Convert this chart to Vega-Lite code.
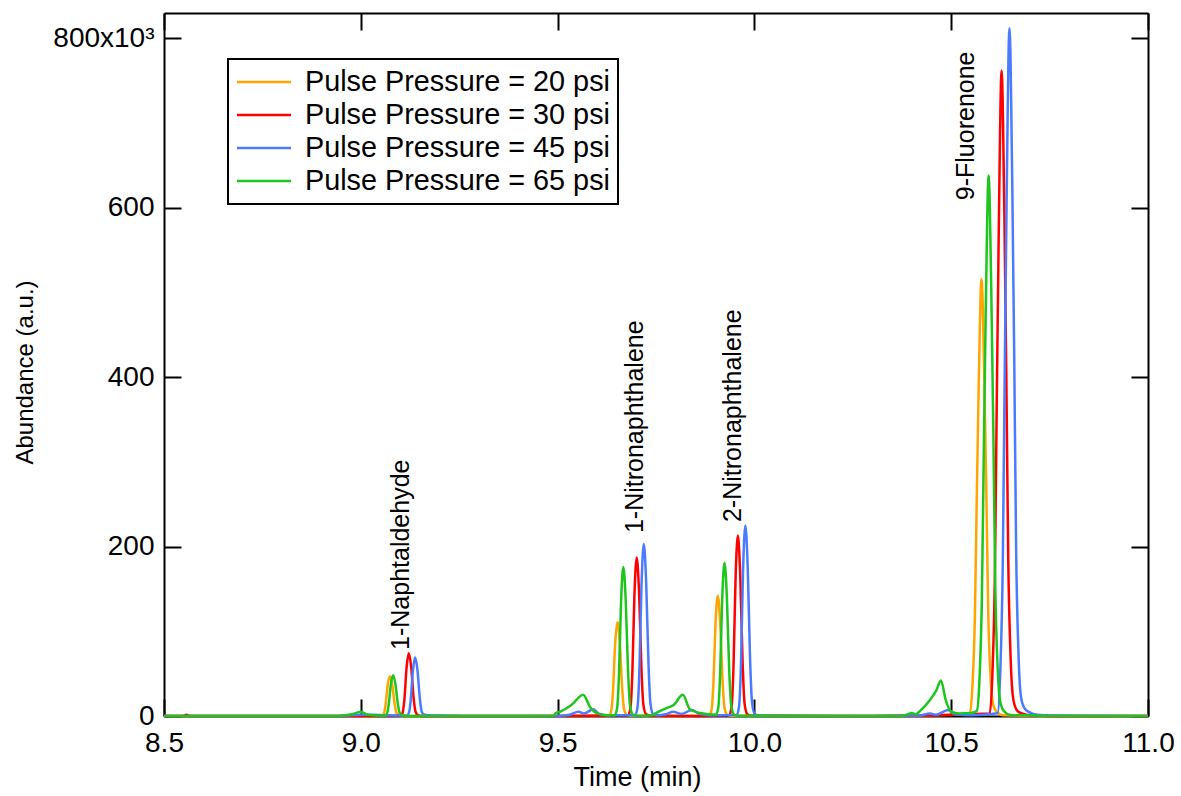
{
  "$schema": "https://vega.github.io/schema/vega-lite/v6.json",
  "width": 984,
  "height": 703,
  "autosize": "none",
  "padding": {"left": 164, "top": 13, "right": 33, "bottom": 80},
  "background": "white",
  "config": {
    "view": {"stroke": null},
    "font": "Liberation Sans",
    "axis": {
      "grid": false,
      "domainColor": "black",
      "domainWidth": 2,
      "tickColor": "black",
      "tickWidth": 2,
      "tickSize": -17,
      "labelFont": "Liberation Sans",
      "labelFontSize": 28,
      "labelColor": "black",
      "labelFlush": false,
      "labelOverlap": false,
      "titleFont": "Liberation Sans",
      "titleFontWeight": "normal",
      "titleColor": "black",
      "zindex": 1
    },
    "legend": {
      "orient": "none",
      "legendX": 64,
      "legendY": 46,
      "fillColor": "white",
      "strokeColor": "black",
      "strokeWidth": 2,
      "padding": 8,
      "symbolType": "M-2,0H2",
      "symbolSize": 729,
      "symbolStrokeWidth": 2.5,
      "symbolOffset": 13,
      "labelFont": "Liberation Sans",
      "labelFontSize": 28.8,
      "labelColor": "black",
      "labelOffset": 26,
      "labelLimit": 0,
      "rowPadding": 3
    }
  },
  "layer": [
    {
      "data": {"values": [
        {"t":8.5,"a":0,"p":20},{"t":9.0,"a":0,"p":20},{"t":9.052,"a":235,"p":20},{"t":9.058,"a":2350,"p":20},{"t":9.063,"a":13160,"p":20},{"t":9.068,"a":35250,"p":20},{"t":9.074,"a":47000,"p":20},{"t":9.080,"a":36660,"p":20},{"t":9.086,"a":14100,"p":20},{"t":9.091,"a":3290,"p":20},{"t":9.098,"a":470,"p":20},{"t":9.108,"a":94,"p":20},{"t":9.4,"a":0,"p":20},{"t":9.630,"a":555,"p":20},{"t":9.636,"a":5550,"p":20},{"t":9.641,"a":31080,"p":20},{"t":9.646,"a":83250,"p":20},{"t":9.652,"a":111000,"p":20},{"t":9.658,"a":86580,"p":20},{"t":9.664,"a":33300,"p":20},{"t":9.669,"a":7770,"p":20},{"t":9.676,"a":1110,"p":20},{"t":9.686,"a":222,"p":20},{"t":9.8,"a":0,"p":20},{"t":9.885,"a":710,"p":20},{"t":9.891,"a":7100,"p":20},{"t":9.896,"a":39760,"p":20},{"t":9.901,"a":106500,"p":20},{"t":9.907,"a":142000,"p":20},{"t":9.913,"a":110760,"p":20},{"t":9.919,"a":42600,"p":20},{"t":9.924,"a":9940,"p":20},{"t":9.931,"a":1420,"p":20},{"t":9.941,"a":284,"p":20},{"t":10.3,"a":0,"p":20},{"t":10.547,"a":2064,"p":20},{"t":10.554,"a":36120,"p":20},{"t":10.560,"a":113520,"p":20},{"t":10.565,"a":258000,"p":20},{"t":10.570,"a":392160,"p":20},{"t":10.577,"a":516000,"p":20},{"t":10.584,"a":402480,"p":20},{"t":10.589,"a":273480,"p":20},{"t":10.594,"a":123840,"p":20},{"t":10.600,"a":46440,"p":20},{"t":10.607,"a":12900,"p":20},{"t":10.617,"a":4128,"p":20},{"t":10.632,"a":1032,"p":20},{"t":10.8,"a":0,"p":20},{"t":11.0,"a":0,"p":20},
        {"t":8.5,"a":0,"p":30},{"t":8.55,"a":0,"p":30},{"t":8.557,"a":1500,"p":30},{"t":8.565,"a":0,"p":30},{"t":9.0,"a":0,"p":30},{"t":9.100,"a":370,"p":30},{"t":9.106,"a":3700,"p":30},{"t":9.111,"a":20720,"p":30},{"t":9.116,"a":55500,"p":30},{"t":9.122,"a":74000,"p":30},{"t":9.128,"a":57720,"p":30},{"t":9.134,"a":22200,"p":30},{"t":9.139,"a":5180,"p":30},{"t":9.146,"a":740,"p":30},{"t":9.156,"a":148,"p":30},{"t":9.5,"a":0,"p":30},{"t":9.679,"a":935,"p":30},{"t":9.685,"a":9350,"p":30},{"t":9.690,"a":52360,"p":30},{"t":9.695,"a":140250,"p":30},{"t":9.701,"a":187000,"p":30},{"t":9.707,"a":145860,"p":30},{"t":9.713,"a":56100,"p":30},{"t":9.718,"a":13090,"p":30},{"t":9.725,"a":1870,"p":30},{"t":9.735,"a":374,"p":30},{"t":9.85,"a":0,"p":30},{"t":9.936,"a":1065,"p":30},{"t":9.942,"a":10650,"p":30},{"t":9.947,"a":59640,"p":30},{"t":9.952,"a":159750,"p":30},{"t":9.958,"a":213000,"p":30},{"t":9.964,"a":166140,"p":30},{"t":9.970,"a":63900,"p":30},{"t":9.975,"a":14910,"p":30},{"t":9.982,"a":2130,"p":30},{"t":9.992,"a":426,"p":30},{"t":10.3,"a":0,"p":30},{"t":10.598,"a":3048,"p":30},{"t":10.605,"a":53340,"p":30},{"t":10.611,"a":167640,"p":30},{"t":10.616,"a":381000,"p":30},{"t":10.621,"a":579120,"p":30},{"t":10.628,"a":762000,"p":30},{"t":10.635,"a":594360,"p":30},{"t":10.640,"a":403860,"p":30},{"t":10.645,"a":182880,"p":30},{"t":10.651,"a":68580,"p":30},{"t":10.658,"a":19050,"p":30},{"t":10.668,"a":6096,"p":30},{"t":10.683,"a":2500,"p":30},{"t":10.70,"a":1000,"p":30},{"t":10.8,"a":0,"p":30},{"t":11.0,"a":0,"p":30},
        {"t":8.5,"a":0,"p":45},{"t":8.95,"a":0,"p":45},{"t":9.0,"a":1500,"p":45},{"t":9.03,"a":1500,"p":45},{"t":9.06,"a":800,"p":45},{"t":9.116,"a":345,"p":45},{"t":9.122,"a":3450,"p":45},{"t":9.127,"a":19320,"p":45},{"t":9.132,"a":51750,"p":45},{"t":9.138,"a":69000,"p":45},{"t":9.144,"a":53820,"p":45},{"t":9.150,"a":20700,"p":45},{"t":9.155,"a":4830,"p":45},{"t":9.162,"a":1380,"p":45},{"t":9.172,"a":800,"p":45},{"t":9.24,"a":300,"p":45},{"t":9.26,"a":0,"p":45},{"t":9.5,"a":0,"p":45},{"t":9.53,"a":1500,"p":45},{"t":9.553,"a":5000,"p":45},{"t":9.567,"a":3000,"p":45},{"t":9.591,"a":8000,"p":45},{"t":9.605,"a":2500,"p":45},{"t":9.63,"a":1000,"p":45},{"t":9.697,"a":1015,"p":45},{"t":9.703,"a":10150,"p":45},{"t":9.708,"a":56840,"p":45},{"t":9.713,"a":152250,"p":45},{"t":9.719,"a":203000,"p":45},{"t":9.725,"a":158340,"p":45},{"t":9.731,"a":60900,"p":45},{"t":9.736,"a":14210,"p":45},{"t":9.743,"a":2030,"p":45},{"t":9.753,"a":800,"p":45},{"t":9.775,"a":2000,"p":45},{"t":9.794,"a":5000,"p":45},{"t":9.815,"a":2500,"p":45},{"t":9.841,"a":7000,"p":45},{"t":9.86,"a":2500,"p":45},{"t":9.89,"a":800,"p":45},{"t":9.955,"a":1125,"p":45},{"t":9.961,"a":11250,"p":45},{"t":9.966,"a":63000,"p":45},{"t":9.971,"a":168750,"p":45},{"t":9.977,"a":225000,"p":45},{"t":9.983,"a":175500,"p":45},{"t":9.989,"a":67500,"p":45},{"t":9.994,"a":15750,"p":45},{"t":10.001,"a":2250,"p":45},{"t":10.011,"a":450,"p":45},{"t":10.3,"a":0,"p":45},{"t":10.42,"a":500,"p":45},{"t":10.446,"a":3000,"p":45},{"t":10.462,"a":1500,"p":45},{"t":10.492,"a":7000,"p":45},{"t":10.51,"a":2000,"p":45},{"t":10.55,"a":800,"p":45},{"t":10.618,"a":3248,"p":45},{"t":10.625,"a":56840,"p":45},{"t":10.631,"a":178640,"p":45},{"t":10.636,"a":406000,"p":45},{"t":10.641,"a":617120,"p":45},{"t":10.648,"a":812000,"p":45},{"t":10.655,"a":633360,"p":45},{"t":10.660,"a":430360,"p":45},{"t":10.665,"a":194880,"p":45},{"t":10.671,"a":73080,"p":45},{"t":10.678,"a":20300,"p":45},{"t":10.688,"a":8000,"p":45},{"t":10.703,"a":3500,"p":45},{"t":10.72,"a":1500,"p":45},{"t":10.75,"a":500,"p":45},{"t":11.0,"a":0,"p":45},
        {"t":8.5,"a":0,"p":65},{"t":8.93,"a":0,"p":65},{"t":8.96,"a":1000,"p":65},{"t":8.985,"a":3000,"p":65},{"t":9.0,"a":5000,"p":65},{"t":9.012,"a":2500,"p":65},{"t":9.03,"a":800,"p":65},{"t":9.060,"a":240,"p":65},{"t":9.066,"a":2400,"p":65},{"t":9.071,"a":13440,"p":65},{"t":9.076,"a":36000,"p":65},{"t":9.082,"a":48000,"p":65},{"t":9.088,"a":37440,"p":65},{"t":9.094,"a":14400,"p":65},{"t":9.099,"a":3360,"p":65},{"t":9.106,"a":480,"p":65},{"t":9.116,"a":96,"p":65},{"t":9.49,"a":0,"p":65},{"t":9.495,"a":3500,"p":65},{"t":9.506,"a":5000,"p":65},{"t":9.535,"a":13000,"p":65},{"t":9.565,"a":25000,"p":65},{"t":9.582,"a":11000,"p":65},{"t":9.599,"a":3500,"p":65},{"t":9.625,"a":1000,"p":65},{"t":9.645,"a":880,"p":65},{"t":9.651,"a":8800,"p":65},{"t":9.656,"a":49280,"p":65},{"t":9.661,"a":132000,"p":65},{"t":9.667,"a":176000,"p":65},{"t":9.673,"a":137280,"p":65},{"t":9.679,"a":52800,"p":65},{"t":9.684,"a":12320,"p":65},{"t":9.691,"a":1760,"p":65},{"t":9.701,"a":352,"p":65},{"t":9.74,"a":1000,"p":65},{"t":9.75,"a":3500,"p":65},{"t":9.775,"a":9000,"p":65},{"t":9.795,"a":13000,"p":65},{"t":9.818,"a":25000,"p":65},{"t":9.836,"a":8000,"p":65},{"t":9.862,"a":3500,"p":65},{"t":9.885,"a":2000,"p":65},{"t":9.902,"a":1500,"p":65},{"t":9.908,"a":9050,"p":65},{"t":9.913,"a":50680,"p":65},{"t":9.918,"a":135750,"p":65},{"t":9.924,"a":181000,"p":65},{"t":9.930,"a":141180,"p":65},{"t":9.936,"a":54300,"p":65},{"t":9.941,"a":12670,"p":65},{"t":9.948,"a":1810,"p":65},{"t":9.958,"a":362,"p":65},{"t":10.37,"a":0,"p":65},{"t":10.39,"a":2000,"p":65},{"t":10.40,"a":3500,"p":65},{"t":10.41,"a":2000,"p":65},{"t":10.421,"a":6000,"p":65},{"t":10.446,"a":19000,"p":65},{"t":10.462,"a":30000,"p":65},{"t":10.474,"a":42000,"p":65},{"t":10.486,"a":19000,"p":65},{"t":10.50,"a":5000,"p":65},{"t":10.52,"a":3000,"p":65},{"t":10.55,"a":3500,"p":65},{"t":10.565,"a":6000,"p":65},{"t":10.572,"a":44660,"p":65},{"t":10.578,"a":140360,"p":65},{"t":10.583,"a":319000,"p":65},{"t":10.588,"a":484880,"p":65},{"t":10.595,"a":638000,"p":65},{"t":10.602,"a":497640,"p":65},{"t":10.607,"a":338140,"p":65},{"t":10.612,"a":153120,"p":65},{"t":10.618,"a":57420,"p":65},{"t":10.625,"a":15950,"p":65},{"t":10.635,"a":5104,"p":65},{"t":10.65,"a":1276,"p":65},{"t":10.8,"a":0,"p":65},{"t":11.0,"a":0,"p":65}
      ]},
      "mark": {"type": "line", "interpolate": "monotone", "strokeWidth": 2.5},
      "encoding": {
        "x": {
          "field": "t", "type": "quantitative",
          "scale": {"domain": [8.5, 11.0], "nice": false, "zero": false},
          "axis": {
            "orient": "bottom",
            "values": [8.5, 9.0, 9.5, 10.0, 10.5, 11.0],
            "labelExpr": "format(datum.value, '.1f')",
            "labelPadding": 30,
            "title": "Time (min)",
            "titleFontSize": 27,
            "titleX": 473,
            "titleY": 69,
            "titleBaseline": "alphabetic"
          }
        },
        "y": {
          "field": "a", "type": "quantitative",
          "scale": {"domain": [0, 830000], "nice": false},
          "axis": {
            "orient": "left",
            "values": [0, 200000, 400000, 600000, 800000],
            "labelExpr": "datum.value == 800000 ? '800x10³' : format(datum.value / 1000, 'd')",
            "labelPadding": 27,
            "title": "Abundance (a.u.)",
            "titleFontSize": 24,
            "titleX": -139,
            "titleY": 359,
            "titleBaseline": "middle",
            "titleAngle": 270
          }
        },
        "color": {
          "field": "p", "type": "nominal",
          "scale": {"domain": [20, 30, 45, 65], "range": ["#FFA500", "#FF0000", "#4A7BFF", "#1DC51D"]},
          "legend": {
            "title": null,
            "labelExpr": "'Pulse Pressure = ' + datum.label + ' psi'"
          }
        }
      }
    },
    {
      "data": {"values": [
        {"t": 9.102, "a": 78000, "label": "1-Naphtaldehyde"},
        {"t": 9.697, "a": 216000, "label": "1-Nitronaphthalene"},
        {"t": 9.946, "a": 229000, "label": "2-Nitronaphthalene"},
        {"t": 10.538, "a": 609000, "label": "9-Fluorenone"}
      ]},
      "mark": {"type": "text", "angle": 270, "align": "left", "baseline": "middle", "font": "Liberation Sans", "fontSize": 25, "color": "black"},
      "encoding": {
        "x": {
          "field": "t", "type": "quantitative",
          "scale": {"domain": [8.5, 11.0], "nice": false, "zero": false},
          "axis": {"orient": "top", "values": [8.5, 9.0, 9.5, 10.0, 10.5, 11.0], "labels": false, "title": null}
        },
        "y": {
          "field": "a", "type": "quantitative",
          "scale": {"domain": [0, 830000], "nice": false},
          "axis": {"orient": "right", "values": [0, 200000, 400000, 600000, 800000], "labels": false, "title": null}
        },
        "text": {"field": "label"}
      }
    }
  ],
  "resolve": {"axis": {"x": "independent", "y": "independent"}}
}
